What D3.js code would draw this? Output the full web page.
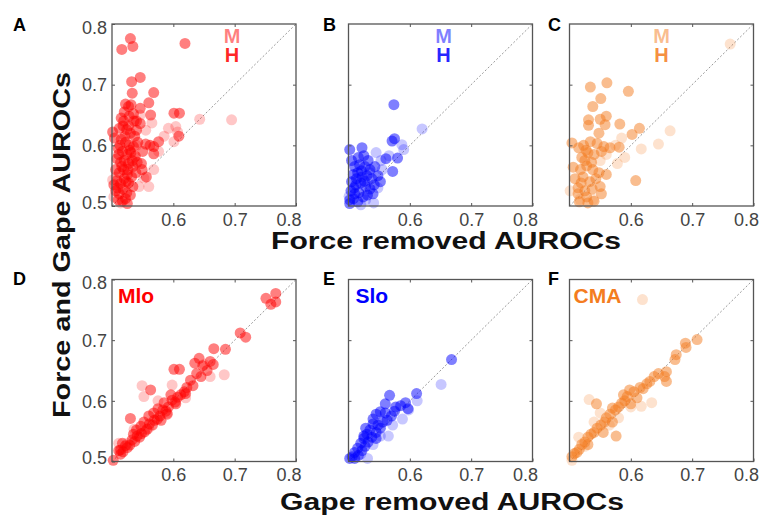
<!DOCTYPE html>
<meta charset="utf-8">
<style>
body { margin: 0; background: #fff; }
text { font-family: "Liberation Sans", Arial, sans-serif; }
.tick text { font-size: 18px; fill: #444; }
.tick line { stroke: #555; }
.domain { display: none; }
.letter { font-size: 18px; font-weight: bold; fill: #000; }
.title { font-size: 23px; font-weight: bold; fill: #111; }
.tag { font-weight: bold; }
</style>
<body>
<script src="https://cdn.jsdelivr.net/npm/d3@7"></script>
<script>

// ===== values, [x, y] pairs =====
// top row: x = Force removed AUROC, y = Force and Gape AUROC
var mhM = [[0.643,0.643],[0.695,0.642],[0.592,0.628],[0.604,0.631],[0.607,0.622],[0.601,0.606],[0.565,0.637],
  [0.546,0.650],[0.568,0.560],[0.560,0.532],[0.544,0.532],[0.552,0.546],[0.507,0.548],[0.503,0.515],
  [0.514,0.505],[0.501,0.543],[0.540,0.600],[0.555,0.625],[0.536,0.580],[0.576,0.590],[0.585,0.615]];
var mhH = [[0.530,0.776],[0.516,0.758],[0.534,0.763],[0.619,0.768],[0.532,0.705],[0.546,0.712],[0.533,0.686],
  [0.568,0.687],[0.522,0.668],[0.527,0.664],[0.531,0.667],[0.546,0.661],[0.560,0.670],[0.563,0.650],
  [0.520,0.655],[0.528,0.648],[0.535,0.652],[0.540,0.640],[0.546,0.636],[0.601,0.653],[0.610,0.653],
  [0.609,0.615],[0.576,0.606],[0.568,0.598],[0.568,0.586],[0.562,0.600],[0.555,0.602],[0.550,0.590],
  [0.548,0.570],[0.549,0.560],[0.556,0.548],[0.501,0.622],[0.504,0.612],[0.512,0.628],[0.518,0.632],
  [0.524,0.626],[0.530,0.620],[0.537,0.615],[0.515,0.610],[0.522,0.605],[0.528,0.600],[0.535,0.598],
  [0.542,0.605],[0.510,0.595],[0.517,0.590],[0.524,0.585],[0.531,0.588],[0.538,0.582],[0.508,0.578],
  [0.514,0.572],[0.520,0.575],[0.527,0.570],[0.534,0.565],[0.541,0.572],[0.506,0.560],[0.512,0.555],
  [0.519,0.560],[0.525,0.552],[0.532,0.548],[0.539,0.555],[0.508,0.542],[0.514,0.537],[0.520,0.545],
  [0.527,0.538],[0.534,0.532],[0.506,0.525],[0.512,0.520],[0.518,0.528],[0.524,0.522],[0.530,0.518],
  [0.510,0.510],[0.517,0.508],[0.525,0.504],[0.503,0.535],[0.522,0.512],[0.536,0.640],[0.527,0.632],
  [0.515,0.645],[0.540,0.625],[0.513,0.600],[0.521,0.615],[0.529,0.592],[0.516,0.565],[0.523,0.540],
  [0.511,0.585],[0.526,0.560],[0.519,0.640],[0.533,0.575],[0.509,0.530]];

var slM = [[0.620,0.627],[0.590,0.593],[0.587,0.601],[0.545,0.588],[0.553,0.575],[0.566,0.583],[0.541,0.505],
  [0.501,0.516],[0.528,0.510],[0.555,0.560],[0.535,0.555],[0.548,0.530],[0.520,0.502]];
var slH = [[0.574,0.667],[0.575,0.611],[0.571,0.607],[0.580,0.579],[0.561,0.578],[0.572,0.557],[0.502,0.593],
  [0.522,0.596],[0.505,0.575],[0.516,0.580],[0.525,0.583],[0.532,0.575],[0.510,0.565],[0.518,0.568],
  [0.527,0.565],[0.535,0.560],[0.543,0.565],[0.508,0.552],[0.515,0.555],[0.522,0.548],[0.530,0.550],
  [0.538,0.545],[0.548,0.550],[0.505,0.540],[0.512,0.535],[0.520,0.538],[0.528,0.532],[0.535,0.528],
  [0.542,0.535],[0.504,0.525],[0.510,0.520],[0.517,0.522],[0.524,0.515],[0.531,0.518],[0.502,0.510],
  [0.508,0.512],[0.515,0.507],[0.502,0.504],[0.540,0.520],[0.552,0.540],[0.513,0.545],[0.521,0.558],
  [0.526,0.541],[0.509,0.530]];

var cmM = [[0.762,0.767],[0.664,0.624],[0.645,0.602],[0.617,0.594],[0.585,0.612],[0.590,0.580],[0.578,0.570],
  [0.550,0.575],[0.501,0.525],[0.517,0.511],[0.539,0.511],[0.575,0.600],[0.560,0.585]];
var cmH = [[0.561,0.703],[0.534,0.696],[0.596,0.689],[0.551,0.677],[0.538,0.664],[0.560,0.648],[0.531,0.642],
  [0.550,0.643],[0.558,0.634],[0.531,0.633],[0.582,0.635],[0.614,0.628],[0.602,0.618],[0.548,0.620],
  [0.504,0.604],[0.523,0.600],[0.534,0.606],[0.545,0.603],[0.556,0.598],[0.566,0.596],[0.581,0.597],
  [0.515,0.596],[0.525,0.575],[0.530,0.588],[0.540,0.585],[0.552,0.590],[0.520,0.580],[0.506,0.564],
  [0.518,0.560],[0.528,0.566],[0.538,0.560],[0.548,0.555],[0.560,0.552],[0.509,0.545],[0.522,0.548],
  [0.533,0.540],[0.543,0.545],[0.514,0.530],[0.525,0.525],[0.537,0.528],[0.550,0.532],[0.514,0.520],
  [0.528,0.515],[0.540,0.508],[0.552,0.520],[0.516,0.507],[0.608,0.542],[0.530,0.505],[0.527,0.592],
  [0.536,0.572],[0.519,0.538]];

// bottom row: x = Gape removed AUROC, y = Force and Gape AUROC
var mloLight = [[0.549,0.625],[0.552,0.607],[0.598,0.626],[0.575,0.600],[0.683,0.643],[0.660,0.640],
  [0.511,0.530],[0.525,0.530],[0.536,0.553],[0.560,0.555],[0.590,0.580],[0.620,0.605],[0.650,0.660]];
var mloDark = [[0.751,0.769],[0.767,0.777],[0.759,0.759],[0.767,0.763],[0.709,0.712],[0.718,0.705],
  [0.666,0.686],[0.685,0.685],[0.642,0.670],[0.635,0.662],[0.648,0.658],[0.660,0.665],[0.665,0.660],
  [0.655,0.650],[0.601,0.652],[0.610,0.652],[0.563,0.618],[0.530,0.571],[0.628,0.634],[0.622,0.622],
  [0.618,0.615],[0.612,0.610],[0.607,0.606],[0.603,0.598],[0.598,0.601],[0.592,0.590],[0.588,0.583],
  [0.583,0.585],[0.578,0.575],[0.574,0.570],[0.569,0.568],[0.566,0.560],[0.561,0.562],[0.557,0.553],
  [0.553,0.549],[0.548,0.546],[0.545,0.540],[0.541,0.542],[0.537,0.533],[0.533,0.536],[0.529,0.527],
  [0.525,0.523],[0.522,0.526],[0.518,0.516],[0.514,0.512],[0.511,0.518],[0.517,0.530],[0.502,0.502],
  [0.514,0.519],[0.596,0.610],[0.585,0.597],[0.575,0.587],[0.560,0.575],[0.547,0.558],[0.540,0.552],
  [0.590,0.578],[0.604,0.595],[0.620,0.612],[0.632,0.625],[0.638,0.645],[0.645,0.640],[0.568,0.580],
  [0.580,0.568],[0.552,0.565],[0.535,0.545]];

var sloLight = [[0.651,0.627],[0.612,0.600],[0.565,0.542],[0.531,0.505],[0.572,0.560],[0.552,0.542],
  [0.540,0.528],[0.588,0.570],[0.598,0.585],[0.520,0.512]];
var sloDark = [[0.668,0.668],[0.611,0.612],[0.567,0.609],[0.593,0.597],[0.585,0.592],[0.597,0.587],
  [0.577,0.590],[0.560,0.580],[0.552,0.582],[0.545,0.578],[0.570,0.575],[0.563,0.568],[0.556,0.565],
  [0.548,0.560],[0.540,0.562],[0.535,0.552],[0.545,0.548],[0.552,0.555],[0.530,0.545],[0.538,0.540],
  [0.525,0.538],[0.532,0.532],[0.520,0.530],[0.527,0.525],[0.515,0.522],[0.522,0.518],[0.510,0.515],
  [0.516,0.510],[0.506,0.508],[0.502,0.505],[0.510,0.505],[0.560,0.595],[0.575,0.583],[0.540,0.570],
  [0.528,0.555],[0.545,0.538],[0.525,0.542]];

var cmaLight = [[0.619,0.767],[0.532,0.602],[0.634,0.597],[0.617,0.591],[0.540,0.565],[0.550,0.580],
  [0.515,0.540],[0.504,0.502],[0.600,0.590],[0.580,0.572],[0.525,0.525],[0.565,0.560]];
var cmaDark = [[0.708,0.701],[0.689,0.695],[0.690,0.688],[0.674,0.676],[0.672,0.668],[0.658,0.648],
  [0.655,0.640],[0.645,0.645],[0.638,0.640],[0.631,0.632],[0.626,0.628],[0.620,0.620],[0.615,0.622],
  [0.605,0.615],[0.598,0.618],[0.594,0.607],[0.590,0.600],[0.585,0.596],[0.580,0.590],[0.575,0.585],
  [0.570,0.588],[0.566,0.578],[0.560,0.572],[0.557,0.565],[0.551,0.560],[0.545,0.555],[0.540,0.548],
  [0.535,0.545],[0.530,0.540],[0.525,0.532],[0.520,0.528],[0.516,0.520],[0.512,0.515],[0.508,0.513],
  [0.504,0.508],[0.544,0.595],[0.576,0.542],[0.658,0.632],[0.600,0.595],[0.588,0.610],[0.570,0.565],
  [0.530,0.528],[0.555,0.548],[0.610,0.605]];

var axisDomain = [0.5, 0.8];
var xTickLabels = [0.6, 0.7, 0.8];
var yTickLabels = [0.5, 0.6, 0.7, 0.8];
var innerTicks = [0.6, 0.7];

var red = "#ff0000", blue = "#0000ff", orange = "#f47c20";

var panels = [
  {letter:"A", col:0, row:0, color:red,    light:mhM, dark:mhH, legend:"MH", lx:120},
  {letter:"B", col:1, row:0, color:blue,   light:slM, dark:slH, legend:"MH", lx:95},
  {letter:"C", col:2, row:0, color:orange, light:cmM, dark:cmH, legend:"MH", lx:92},
  {letter:"D", col:0, row:1, color:red,    light:mloLight, dark:mloDark, tag:"Mlo", lx:6},
  {letter:"E", col:1, row:1, color:blue,   light:sloLight, dark:sloDark, tag:"Slo", lx:7},
  {letter:"F", col:2, row:1, color:orange, light:cmaLight, dark:cmaDark, tag:"CMA", lx:4}
];

// ===== layout =====
var colX = [112, 348.5, 569.5], rowY = [24, 279.5], letterX = [13, 323, 548];
var pw = 184, ph = 182, r = 5.5;

var svg = d3.select("body").append("svg").attr("width", 764).attr("height", 520);

var x = d3.scaleLinear().domain(axisDomain).range([0, pw]);
var y = d3.scaleLinear().domain(axisDomain).range([ph, 0]);
var fmt = d3.format(".1f");
function near(a, b) { return Math.abs(a - b) < 1e-9; }

panels.forEach(function(p) {
  var g = svg.append("g").attr("transform", "translate(" + colX[p.col] + "," + rowY[p.row] + ")");

  // diagonal
  g.append("line")
    .attr("x1", x(axisDomain[0])).attr("y1", y(axisDomain[0]))
    .attr("x2", x(axisDomain[1])).attr("y2", y(axisDomain[1]))
    .attr("stroke", "#999").attr("stroke-width", 1).attr("stroke-dasharray", "2,2");

  g.append("g").selectAll("circle").data(p.light).enter().append("circle")
    .attr("cx", function(d){ return x(d[0]); })
    .attr("cy", function(d){ return y(d[1]); })
    .attr("r", r).attr("fill", p.color).attr("fill-opacity", 0.22);

  g.append("g").selectAll("circle").data(p.dark).enter().append("circle")
    .attr("cx", function(d){ return x(d[0]); })
    .attr("cy", function(d){ return y(d[1]); })
    .attr("r", r).attr("fill", p.color).attr("fill-opacity", 0.5);

  // axes with small inward ticks
  var xb = g.append("g").attr("transform", "translate(0," + ph + ")")
    .call(d3.axisBottom(x).tickValues(xTickLabels).tickSize(-3).tickPadding(7).tickFormat(fmt));
  // last label is kept inside the right edge, as in the figure
  xb.selectAll(".tick text").filter(function(d){ return near(d, 0.8); })
    .attr("text-anchor", "end").attr("x", 5);
  g.append("g")
    .call(d3.axisTop(x).tickValues(innerTicks).tickSize(-3).tickFormat(""));
  g.append("g").attr("transform", "translate(" + pw + ",0)")
    .call(d3.axisRight(y).tickValues(innerTicks).tickSize(-3).tickFormat(""));
  if (p.col === 0) {
    g.append("g")
      .call(d3.axisLeft(y).tickValues(yTickLabels).tickSize(-3).tickPadding(5).tickFormat(fmt))
      .selectAll(".tick text")
      .attr("dy", "0.35em")
      .attr("y", function(d){ return near(d, 0.8) ? 3 : (near(d, 0.5) ? -4 : 0); });
  } else {
    g.append("g")
      .call(d3.axisLeft(y).tickValues(innerTicks).tickSize(-3).tickFormat(""));
  }

  g.append("rect").attr("width", pw).attr("height", ph)
    .attr("fill", "none").attr("stroke", "#555").attr("stroke-width", 1.3);

  if (p.legend) {
    g.append("text").attr("class", "tag").attr("x", p.lx).attr("y", 19)
      .attr("text-anchor", "middle").style("font-size", "20px")
      .attr("fill", p.color).attr("fill-opacity", 0.5).text("M");
    g.append("text").attr("class", "tag").attr("x", p.lx).attr("y", 38)
      .attr("text-anchor", "middle").style("font-size", "20px")
      .attr("fill", p.color).attr("fill-opacity", 0.85).text("H");
  } else {
    g.append("text").attr("class", "tag").attr("x", p.lx).attr("y", 23)
      .style("font-size", "21px").attr("fill", p.color).text(p.tag);
  }

  svg.append("text").attr("class", "letter")
    .attr("x", letterX[p.col]).attr("y", p.row === 0 ? 31 : 284.5)
    .text(p.letter);
});

// axis titles
svg.append("text").attr("class", "title")
  .attr("x", 446).attr("y", 249).attr("text-anchor", "middle")
  .attr("textLength", 350).attr("lengthAdjust", "spacingAndGlyphs")
  .text("Force removed AUROCs");
svg.append("text").attr("class", "title")
  .attr("x", 452).attr("y", 510).attr("text-anchor", "middle")
  .attr("textLength", 344).attr("lengthAdjust", "spacingAndGlyphs")
  .text("Gape removed AUROCs");
svg.append("text").attr("class", "title")
  .attr("transform", "translate(70,245) rotate(-90)").attr("text-anchor", "middle")
  .attr("textLength", 346).attr("lengthAdjust", "spacingAndGlyphs")
  .text("Force and Gape AUROCs");

</script>
</body>
